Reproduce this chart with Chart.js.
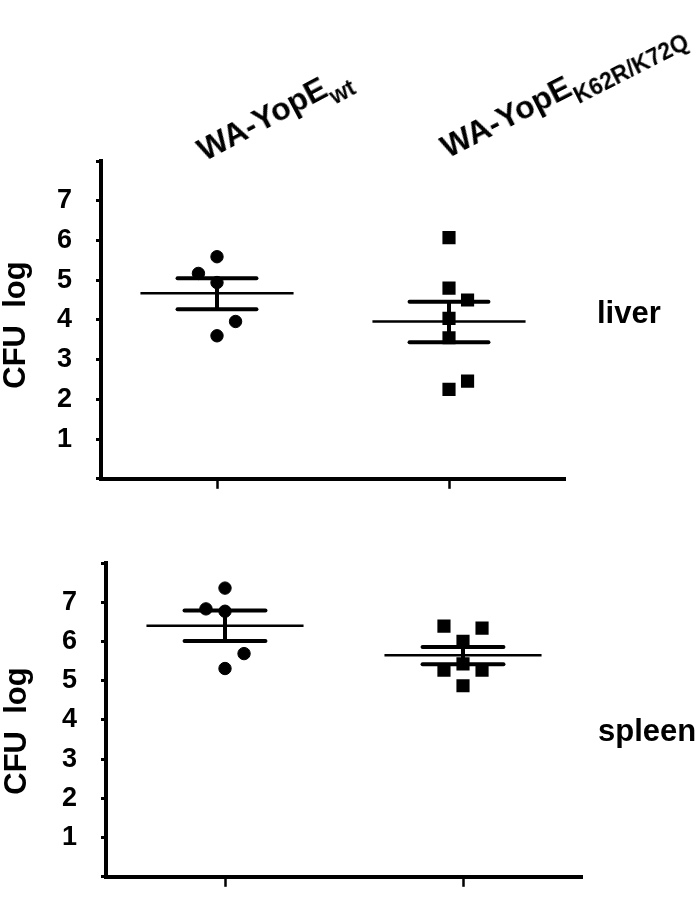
<!DOCTYPE html>
<html><head><meta charset="utf-8">
<script src="https://cdn.jsdelivr.net/npm/chart.js@4.4.1/dist/chart.umd.min.js"></script>
<style>
body{margin:0;background:#fff;width:700px;height:917px;position:relative;overflow:hidden;font-family:"Liberation Sans",Arial,sans-serif;font-weight:bold;color:#000}
.box{position:absolute;left:0;width:700px}
.lbl{position:absolute;white-space:nowrap;line-height:1}
.sub{position:relative;top:11px;font-size:23px}
</style></head><body>
<div class="box" style="top:0;height:519px"><canvas id="c1"></canvas></div>
<div class="box" style="top:520px;height:397px"><canvas id="c2"></canvas></div>
<div id="t1" class="lbl" style="left:207px;top:134px;font-size:32px;transform-origin:0 100%;transform:rotate(-28deg)"></div>
<div id="t2" class="lbl" style="left:450px;top:131px;font-size:32px;transform-origin:0 100%;transform:rotate(-27deg)"></div>
<div class="lbl yt" style="left:14px;top:325px;font-size:31px;transform:translate(-50%,-50%) rotate(-90deg)">CFU&nbsp;&nbsp;log</div>
<div class="lbl yt" style="left:15px;top:731px;font-size:31px;transform:translate(-50%,-50%) rotate(-90deg)">CFU&nbsp;&nbsp;log</div>
<div id="o1" class="lbl" style="left:597px;top:297px;font-size:31px"></div>
<div id="o2" class="lbl" style="left:598px;top:715px;font-size:31px"></div>
<script>
// ---- data ----
const groupNames = ['WA-YopE', 'WA-YopE'];
const groupSubs = ['wt', 'K62R/K72Q'];
const organs = ['liver', 'spleen'];
const yTicks = [0, 1, 2, 3, 4, 5, 6, 7, 8];
const yTickLabels = ['', '1', '2', '3', '4', '5', '6', '7', ''];
const groupX = [1, 2];

const liverWt = [5.59, 5.17, 4.94, 3.96, 3.60];
const liverWtSlot = [0, -1, 0, 1, 0];
const liverMut = [6.07, 4.80, 4.50, 4.04, 3.55, 2.46, 2.25];
const liverMutSlot = [0, 0, 1, 0, 0, 1, 0];
const liverMean = [4.67, 3.96];
const liverSemHi = [5.05, 4.46];
const liverSemLo = [4.27, 3.44];

const spleenWt = [7.36, 6.83, 6.77, 5.69, 5.31];
const spleenWtSlot = [0, -1, 0, 1, 0];
const spleenMut = [6.39, 6.34, 6.00, 5.43, 5.27, 5.27, 4.87];
const spleenMutSlot = [-1, 1, 0, 0, -1, 1, 0];
const spleenMean = [6.40, 5.65];
const spleenSemHi = [6.79, 5.86];
const spleenSemLo = [6.01, 5.42];

// ---- text ----
document.getElementById('t1').innerHTML = groupNames[0] + '<span class="sub">' + groupSubs[0] + '</span>';
document.getElementById('t2').innerHTML = groupNames[1] + '<span class="sub">' + groupSubs[1] + '</span>';
document.getElementById('o1').textContent = organs[0];
document.getElementById('o2').textContent = organs[1];

// ---- styles ----
const SLOT = 0.08, MEAN_HALF = 0.33, CAP_HALF = 0.17;
const FONT = {family: '"Liberation Sans", Arial, sans-serif', size: 27, weight: 'bold'};

function seg(x1, y1, x2, y2, w, cap) {
  return {data: [{x: x1, y: y1}, {x: x2, y: y2}], showLine: true, pointRadius: 0,
    borderColor: '#000', borderWidth: w, borderCapStyle: cap || 'butt', fill: false};
}

function makePanel(id, wt, wtSlot, mut, mutSlot, mean, hi, lo, geo) {
  const ds = [];
  ds.push({data: wt.map((v, i) => ({x: groupX[0] + wtSlot[i] * SLOT, y: v})),
    pointStyle: 'circle', pointRadius: 6.2, backgroundColor: '#000', borderColor: '#000', borderWidth: 1});
  ds.push({data: mut.map((v, i) => ({x: groupX[1] + mutSlot[i] * SLOT, y: v})),
    pointStyle: 'rect', pointRadius: 9.3, backgroundColor: '#000', borderColor: '#000', borderWidth: 0});
  groupX.forEach((cx, g) => {
    ds.push(seg(cx - MEAN_HALF, mean[g], cx + MEAN_HALF, mean[g], 2.5));
    ds.push(seg(cx - CAP_HALF, hi[g], cx + CAP_HALF, hi[g], 4, 'round'));
    ds.push(seg(cx - CAP_HALF, lo[g], cx + CAP_HALF, lo[g], 4, 'round'));
    ds.push(seg(cx, lo[g], cx, hi[g], 4));
  });
  return new Chart(document.getElementById(id), {
    type: 'scatter',
    data: {datasets: ds},
    options: {
      responsive: true, maintainAspectRatio: false, animation: false, events: [],
      layout: {padding: {left: 0, top: geo.top, right: geo.right, bottom: 0}},
      plugins: {legend: {display: false}, tooltip: {enabled: false}},
      scales: {
        x: {type: 'linear', min: 0.5, max: 2.5,
          afterBuildTicks: s => { s.ticks = groupX.map(v => ({value: v})); },
          ticks: {display: false},
          grid: {display: true, drawOnChartArea: false, drawTicks: true, tickLength: 10, tickWidth: 2.5, tickColor: '#000'},
          border: {display: true, width: 4, color: '#000'},
          afterFit: s => { s.height = geo.xh; }},
        y: {min: 0, max: 8,
          afterBuildTicks: s => { s.ticks = yTicks.map(v => ({value: v})); },
          ticks: {callback: (v, i) => yTickLabels[i], font: FONT, color: '#000', padding: 24},
          grid: {display: true, drawOnChartArea: false, drawTicks: true, tickLength: 5, tickWidth: 3, tickColor: '#000'},
          border: {display: true, width: 4, color: '#000'},
          afterFit: s => { s.width = geo.left; }}
      }
    }
  });
}

makePanel('c1', liverWt, liverWtSlot, liverMut, liverMutSlot, liverMean, liverSemHi, liverSemLo,
  {top: 161, right: 135, xh: 20, left: 101});
makePanel('c2', spleenWt, spleenWtSlot, spleenMut, spleenMutSlot, spleenMean, spleenSemHi, spleenSemLo,
  {top: 43, right: 118, xh: 11, left: 106});
</script>
</body></html>
